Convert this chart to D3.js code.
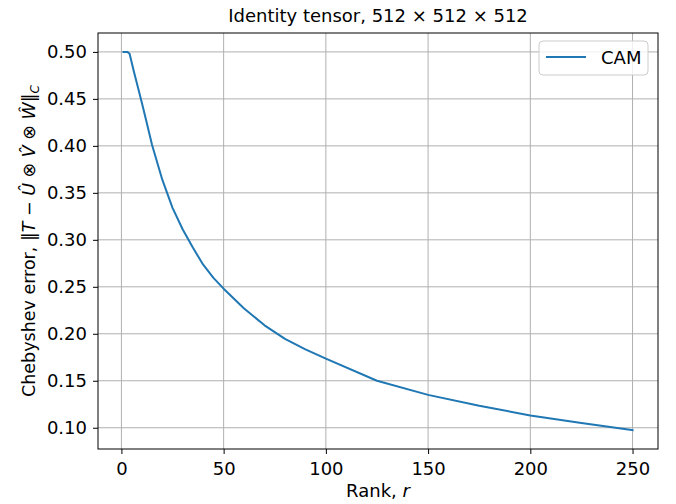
<!DOCTYPE html>
<html>
<head>
<meta charset="utf-8">
<script src="https://cdn.jsdelivr.net/npm/d3@7"></script>
<style>
  body { margin: 0; background: #fff; }
  text { font-family: "DejaVu Sans", sans-serif; fill: #000; }
</style>
</head>
<body>
<div id="chart"></div>
<script>
// CAM error vs rank
const ranks = [1, 2, 3, 4, 5, 6, 8, 10, 12, 15, 20, 25, 30, 35, 40, 45, 50, 60, 70, 80, 90, 100, 125, 150, 175, 200, 225, 250];
const camError = [0.5, 0.5, 0.5, 0.498, 0.489, 0.48, 0.463, 0.446, 0.428, 0.401, 0.364, 0.334, 0.311, 0.2915, 0.2735, 0.2595, 0.248, 0.227, 0.209, 0.1945, 0.1835, 0.1735, 0.150, 0.135, 0.1234, 0.1131, 0.105, 0.0975];
const xTicks = [0, 50, 100, 150, 200, 250];
const yTicks = [0.10, 0.15, 0.20, 0.25, 0.30, 0.35, 0.40, 0.45, 0.50];
const seriesName = "CAM";

const W = 676, H = 504;
const margin = { top: 33, right: 18, bottom: 55, left: 98 };
const width = W - margin.left - margin.right;
const height = H - margin.top - margin.bottom;
const fs = 18;

const svg = d3.select("#chart").append("svg")
    .attr("width", W)
    .attr("height", H);

svg.append("rect").attr("width", W).attr("height", H).attr("fill", "#fff");

const g = svg.append("g")
    .attr("transform", `translate(${margin.left},${margin.top})`);

// matplotlib style 5% margins
const xPad = (d3.max(ranks) - d3.min(ranks)) * 0.05;
const yPad = (d3.max(camError) - d3.min(camError)) * 0.05;
const x = d3.scaleLinear()
    .domain([d3.min(ranks) - xPad, d3.max(ranks) + xPad])
    .range([0, width]);
const y = d3.scaleLinear()
    .domain([d3.min(camError) - yPad, d3.max(camError) + yPad])
    .range([height, 0]);

// grid
g.append("g").selectAll("line").data(xTicks).enter().append("line")
    .attr("x1", d => x(d)).attr("x2", d => x(d))
    .attr("y1", 0).attr("y2", height)
    .attr("stroke", "#b0b0b0").attr("stroke-width", 1);
g.append("g").selectAll("line").data(yTicks).enter().append("line")
    .attr("y1", d => y(d)).attr("y2", d => y(d))
    .attr("x1", 0).attr("x2", width)
    .attr("stroke", "#b0b0b0").attr("stroke-width", 1);

// axes
const xAxis = g.append("g")
    .attr("transform", `translate(0,${height})`)
    .call(d3.axisBottom(x).tickValues(xTicks).tickSize(5).tickPadding(8).tickFormat(d3.format("d")));
const yAxis = g.append("g")
    .call(d3.axisLeft(y).tickValues(yTicks).tickSize(5).tickPadding(6).tickFormat(d3.format(".2f")));

[xAxis, yAxis].forEach(a => {
    a.select(".domain").remove();
    a.selectAll(".tick line").attr("stroke", "#000").attr("stroke-width", 1);
    a.selectAll("text")
        .style("font-family", "DejaVu Sans")
        .style("font-size", fs + "px")
        .attr("fill", "#000");
});

// the curve
const line = d3.line()
    .x((d, i) => x(ranks[i]))
    .y(d => y(d));

g.append("path")
    .datum(camError)
    .attr("d", line)
    .attr("fill", "none")
    .attr("stroke", "#1f77b4")
    .attr("stroke-width", 2)
    .attr("stroke-linejoin", "round")
    .attr("stroke-linecap", "square");

// frame
g.append("rect")
    .attr("width", width).attr("height", height)
    .attr("fill", "none").attr("stroke", "#000").attr("stroke-width", 1);

// title
svg.append("text")
    .attr("x", margin.left + width / 2)
    .attr("y", 22)
    .attr("text-anchor", "middle")
    .style("font-size", fs + "px")
    .text("Identity tensor, 512 \u00d7 512 \u00d7 512");

// x label
const xl = svg.append("text")
    .attr("x", margin.left + width / 2)
    .attr("y", 497)
    .attr("text-anchor", "middle")
    .style("font-size", fs + "px");
xl.append("tspan").text("Rank, ");
xl.append("tspan").style("font-style", "italic").text("r");

// y label with the norm expression
const yl = svg.append("text")
    .attr("transform", `translate(35,${margin.top + height / 2}) rotate(-90)`)
    .attr("text-anchor", "middle")
    .style("font-size", "17.5px");
yl.append("tspan").text("Chebyshev error, \u2016");
yl.append("tspan").style("font-style", "italic").text("T");
yl.append("tspan").text(" \u2212 ");
yl.append("tspan").style("font-style", "italic").text("\u00db");
yl.append("tspan").text(" \u2297 ");
yl.append("tspan").style("font-style", "italic").text("V\u0302");
yl.append("tspan").text(" \u2297 ");
yl.append("tspan").style("font-style", "italic").text("\u0174");
yl.append("tspan").text("\u2016");
yl.append("tspan").style("font-style", "italic").style("font-size", "12px")
    .attr("dy", 4).text("C");

// legend
const legend = svg.append("g")
    .attr("transform", `translate(${margin.left + width - 119},${margin.top + 8})`);
legend.append("rect")
    .attr("width", 109).attr("height", 34).attr("rx", 4)
    .attr("fill", "#fff").attr("fill-opacity", 0.8)
    .attr("stroke", "#cccccc").attr("stroke-width", 1);
legend.append("line")
    .attr("x1", 7).attr("x2", 47).attr("y1", 16).attr("y2", 16)
    .attr("stroke", "#1f77b4").attr("stroke-width", 2);
legend.append("text")
    .attr("x", 62).attr("y", 23)
    .style("font-size", fs + "px")
    .text(seriesName);
</script>
</body>
</html>
